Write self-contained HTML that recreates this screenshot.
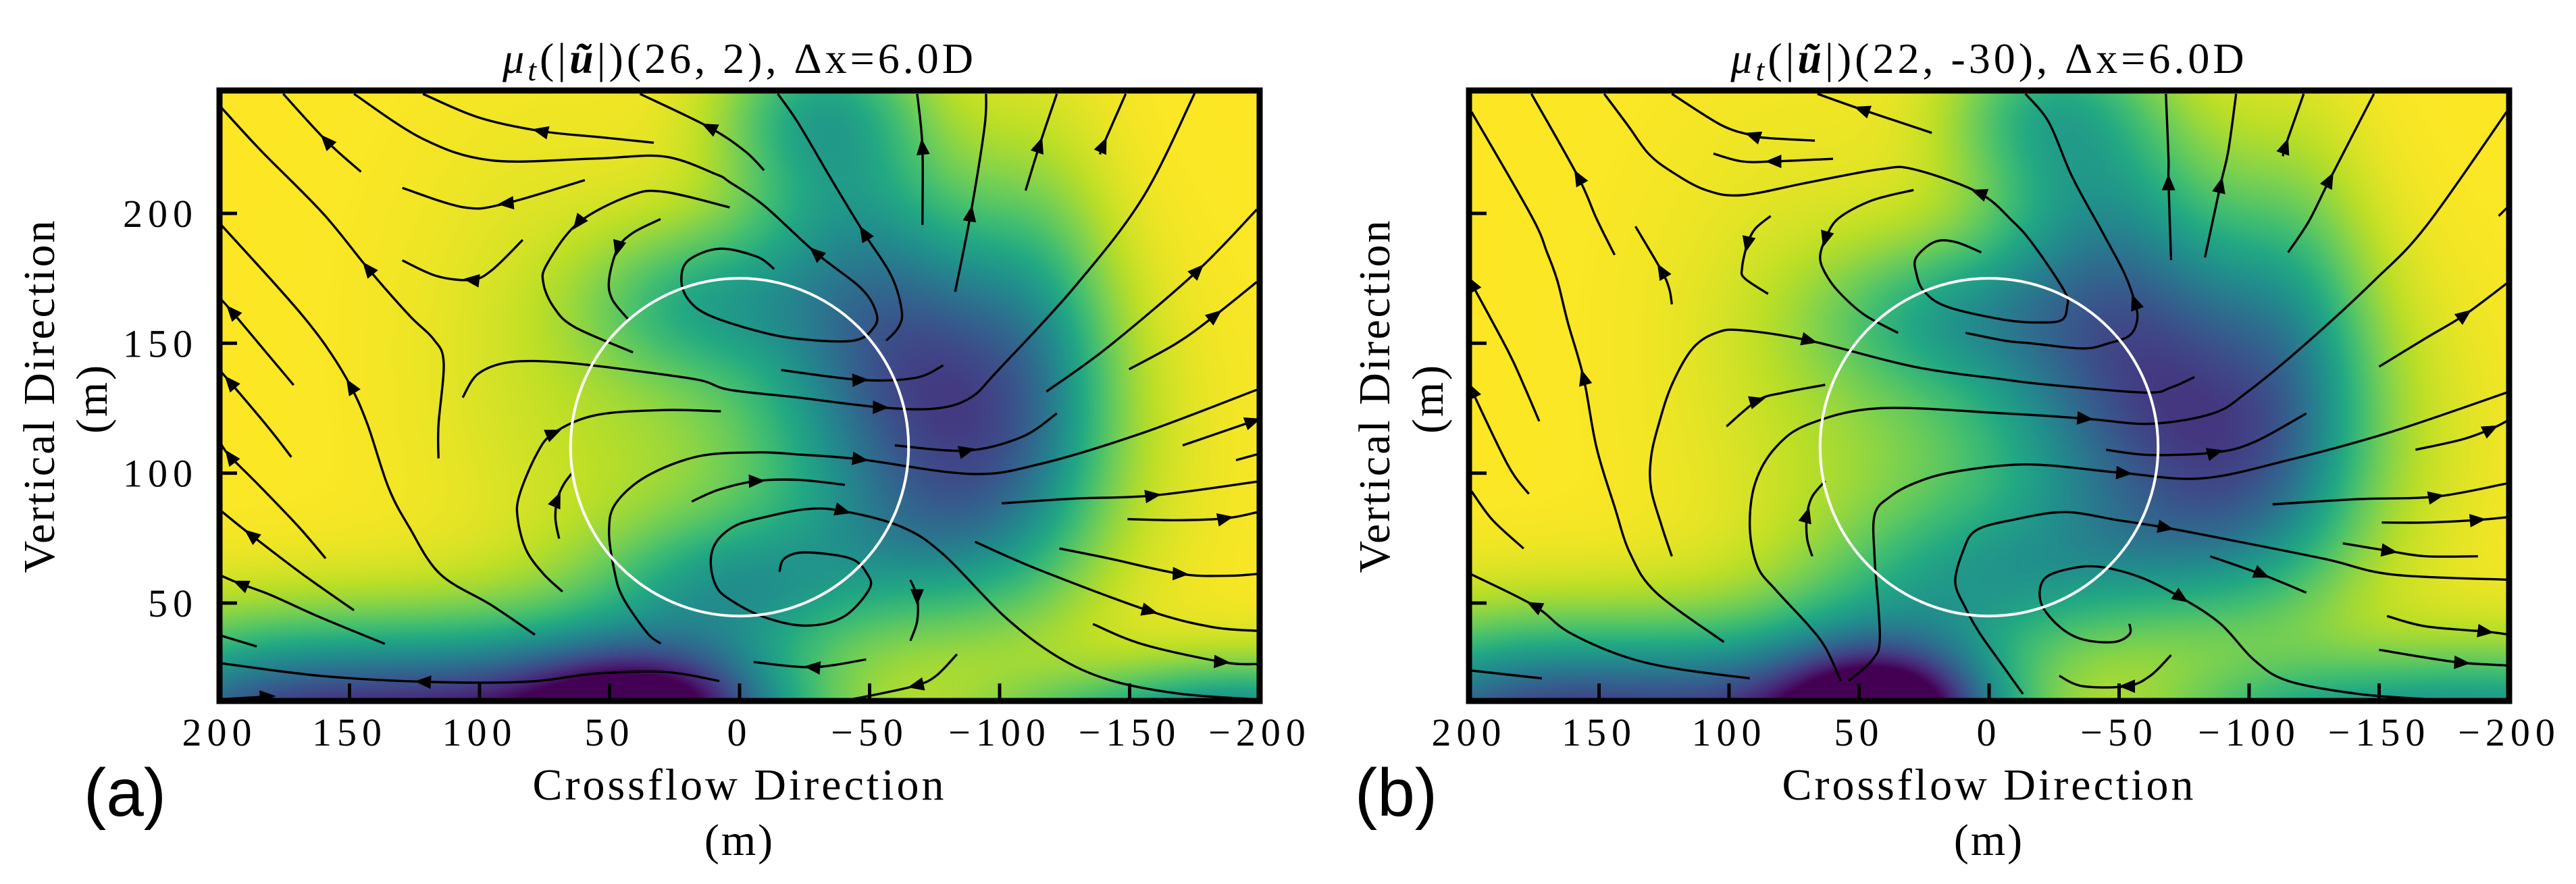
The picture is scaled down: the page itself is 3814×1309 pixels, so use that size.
<!DOCTYPE html>
<html><head><meta charset="utf-8">
<style>
html,body{margin:0;padding:0;background:#fff;}
#wrap{position:relative;width:3814px;height:1309px;overflow:hidden;background:#fff;}
canvas{position:absolute;}
svg{position:absolute;left:0;top:0;}
</style></head>
<body>
<div id="wrap">
<canvas id="cvA" width="1540" height="904" style="left:325px;top:134px"></canvas>
<canvas id="cvB" width="1540" height="904" style="left:2175px;top:134px"></canvas>
<svg id="svg" width="3814" height="1309" viewBox="0 0 3814 1309" font-family="'Liberation Serif', serif">
<defs>
<clipPath id="clipA"><rect x="325" y="134" width="1540" height="904"/></clipPath>
<clipPath id="clipB"><rect x="2175" y="134" width="1540" height="904"/></clipPath>
</defs>
<g id="gA" clip-path="url(#clipA)"></g>
<g id="gB" clip-path="url(#clipB)"></g>
<g id="axA"></g>
<g id="axB"></g>

<text x="1095" y="108" text-anchor="middle" font-size="64" letter-spacing="5"><tspan font-style="italic">μ</tspan><tspan font-style="italic" font-size="46" dy="11">t</tspan><tspan dy="-11">(|</tspan><tspan font-weight="bold" font-style="italic">ũ</tspan><tspan>|)(26, 2), Δx=6.0D</tspan></text>
<text x="2945" y="108" text-anchor="middle" font-size="64" letter-spacing="5"><tspan font-style="italic">μ</tspan><tspan font-style="italic" font-size="46" dy="11">t</tspan><tspan dy="-11">(|</tspan><tspan font-weight="bold" font-style="italic">ũ</tspan><tspan>|)(22, -30), Δx=6.0D</tspan></text>

<text transform="translate(80,586) rotate(-90)" text-anchor="middle" font-size="66" letter-spacing="3">Vertical Direction</text>
<text transform="translate(158,590) rotate(-90)" text-anchor="middle" font-size="66" letter-spacing="3">(m)</text>
<text transform="translate(2057,586) rotate(-90)" text-anchor="middle" font-size="66" letter-spacing="3">Vertical Direction</text>
<text transform="translate(2136,590) rotate(-90)" text-anchor="middle" font-size="66" letter-spacing="3">(m)</text>

<text x="1095" y="1184" text-anchor="middle" font-size="66" letter-spacing="4">Crossflow Direction</text>
<text x="1095" y="1266" text-anchor="middle" font-size="66" letter-spacing="3">(m)</text>
<text x="2945" y="1184" text-anchor="middle" font-size="66" letter-spacing="4">Crossflow Direction</text>
<text x="2945" y="1266" text-anchor="middle" font-size="66" letter-spacing="3">(m)</text>

<text x="185" y="1208" text-anchor="middle" font-size="100" font-family="'Liberation Sans', sans-serif">(a)</text>
<text x="2067" y="1208" text-anchor="middle" font-size="100" font-family="'Liberation Sans', sans-serif">(b)</text>
</svg>
</div>
<script>
// ---- data ----
const xTicks = [200,150,100,50,0,-50,-100,-150,-200];
const xTickLabels = ["200","150","100","50","0","−50","−100","−150","−200"];
const yTicks = [50,100,150,200];
const yTickLabels = ["50","100","150","200"];
const circleCenter = [0,110];
const circleRadius = 65;

// heat field blobs (dips from max value 1), panel a
const blobXA  = [185,105,30,40,-200,-140,-72,-75,-90,-40,-30,15,10,0,-60,-115,70];
const blobYA  = [0,0,0,10,0,0,150,110,90,200,240,165,110,58,75,150,150];
const blobAmpA= [0.7,0.7,0.75,0.35,0.55,0.25,0.35,0.45,0.15,0.3,0.25,0.28,0.08,0.3,0.1,0.2,0.06];
const blobSXA = [45,45,40,30,40,40,35,45,25,30,25,30,45,35,30,20,40];
const blobSYA = [27,27,30,15,18,15,35,45,30,40,20,20,45,18,20,55,60];
// panel b
const blobXB  = [185,105,40,40,-200,-120,-65,-75,-95,-40,-20,15,20,0,-60,-118,70];
const blobYB  = [0,0,0,10,0,0,148,110,90,205,240,160,110,60,75,148,150];
const blobAmpB= [0.7,0.6,0.8,0.4,0.5,0.3,0.38,0.45,0.15,0.3,0.22,0.28,0.1,0.28,0.1,0.2,0.06];
const blobSXB = [45,45,35,25,50,40,40,50,25,30,25,35,40,40,30,20,40];
const blobSYB = [27,27,30,15,22,18,40,45,30,40,20,20,40,20,20,55,60];

const streamsA = [
[[145.6,216],[159,228],[175.5,246]],
[[115.8,105.7],[115.8,118.5],[113.8,142.7],[117.8,151.7],[127.1,160.8],[143,178.9],[160.2,200],[184.1,224.2],[200,241.5]],
[[78.7,37.8],[95.3,49.1],[115.2,61.2],[127.1,79.3],[135,94.4],[143,118.5],[149.6,133.6],[158.9,148.7],[168.2,160.8],[180.1,174.4],[199.3,195.5]],
[[33,227.2],[54.2,229.4],[76.7,231.7],[100.6,237],[121.8,246]],
[[-9.4,216.6],[-2,224],[11.8,233.2],[38.3,246]],
[[-56.4,151],[-61,156],[-62.4,162.3],[-58.4,175.9],[-47.8,192.5],[-35.9,212.1],[-22.6,234.7],[-14.7,246]],
[[-13.3,178.6],[-6.5,183.4],[7.8,186.4],[19.7,181.9],[22.4,174.4],[19.7,166.8],[11.8,160.8],[-6.5,154.8],[-22.6,151.7],[-43.8,151],[-51.8,156.3],[-52.4,162.3],[-46.5,171.4],[-29.2,184.9],[-9.4,203],[3.9,212.1],[9.1,215.1],[29,221.9],[55.5,221.1],[95.3,220.4],[121.8,228.7],[148.3,246]],
[[30.4,197.8],[41,192.5],[46.9,186.4],[50.2,174.4],[48.9,166.8],[42.9,159.3]],
[[3.8,202.3],[29,208.3],[42.3,206.8],[62.2,196.2],[74.1,180.4],[75.4,172.9],[71.4,163.8],[63.5,156.3],[41,146.5]],
[[59.5,212.8],[90,203.8],[105.9,202.3],[129.7,209.8]],
[[83.4,189.8],[95.3,178.1],[103.2,174.4],[116.5,175.9],[129.7,181.9]],
[[171.5,133.9],[181.4,145.7],[195.3,162.3],[199.3,166.8]],
[[172.4,106.2],[181.4,117.8],[196,135.1],[199.3,138.9]],
[[159.2,67.2],[169.5,79.3],[185.4,95.9],[196,106.5],[199.3,111]],
[[148.3,47.2],[168.2,61.2],[188,76.3],[199.3,85.4]],
[[136.4,34.3],[161.5,44.6],[180.1,53],[192,57.4],[199.3,60.5]],
[[185.7,33.3],[199.3,37.4]],
[[7.8,20],[29,23.5],[55.5,22.8],[82,19.7],[121.8,19.7],[161.5,22],[199.3,26.8]],
[[-83.6,30.3],[-75.6,22],[-67.7,18.2],[-49.1,14.1],[-35.9,11.7]],
[[-48.7,28.3],[-27.9,25.3],[-5.4,27.3]],
[[68.1,54.4],[75.4,61.2],[82,70.3],[85.3,82.3],[84.7,91.4],[78.1,107.2],[71.4,115.5],[55.5,122.3],[29,124.3],[7.2,123.8]],
[[69.4,74.8],[70.8,82.3],[70.1,89.9],[67.5,95.9],[64.1,100.4]],
[[106.5,129.1],[100.6,138.2],[88.7,142.7],[68.8,142.7],[42.3,139.7],[15.8,135.9],[3.9,132.1],[-22.6,129.1],[-54.4,125.3],[-75.6,124.9],[-88.9,129.1],[-99.5,139.7],[-128.6,171.4],[-155.1,206.1],[-175,246.2]],
[[-16,139.7],[-46.5,135.9],[-67.7,136.7],[-78.3,141.5]],
[[-70.3,195.5],[-70.3,225.7],[-68.3,246]],
[[-82.9,169.8],[-88.9,200],[-94.2,233.2],[-94.8,246]],
[[-110,208.8],[-115.4,226.4],[-122,246]],
[[-138.6,222.7],[-139.9,226.4],[-148.5,246]],
[[-118,131.4],[-141.9,148.7],[-176.3,178.1],[-198.9,201.5]],
[[-149.8,140],[-168.4,150.2],[-183,160.8],[-198.9,173.6]],
[[-59.7,110.7],[-87.5,108.7],[-108.7,114],[-122,123]],
[[30.3,34.4],[35.6,38.6],[44.9,52.2],[48.2,62.7],[50.2,77.8],[47.6,88.4],[35.6,98.9],[15.8,106.5],[-6.5,108],[-22.6,107.2],[-46.5,105.3],[-88.9,99.7],[-115.4,103.5],[-155.1,115.5],[-198.9,132.1]],
[[18.4,89.1],[7.8,93.7],[-6.7,97],[-22.6,97.4],[-40.5,95.5]],
[[-15.3,62],[-17.3,67.2],[-25.3,69.5],[-42.5,67.2],[-49.1,61.2],[-49.8,55.2],[-39.8,44.6],[-25.3,41.3],[-9.4,44.6],[3.8,51.4],[9.1,56.7],[11.1,65.7],[9.1,73.3],[2.5,79.3],[-6.4,82.3],[-25.3,86.1],[-39.8,85.4],[-62.4,79.3],[-78.3,68.8],[-102.1,44.6],[-122,29.5],[-141.9,20.5],[-168.4,15.2],[-198.9,12.9]],
[[-65.7,58.9],[-68.3,52.2],[-68.3,43.1],[-65.7,35.5]],
[[-100.8,88.4],[-128.6,90.2],[-159.1,91.4],[-198.9,96.7]],
[[-149.2,82.3],[-168.4,81.9],[-186.9,82.6],[-198.9,84.9]],
[[-90.5,73.6],[-115.4,62.7],[-157.8,46.9],[-181.6,40.8],[-198.9,39.3]],
[[-123,71],[-141.9,67.2],[-169.7,61.2],[-188.3,60.5],[-198.9,61.2]],
[[-135.9,41.9],[-155.1,34.1],[-185.6,27.3],[-198.9,26.5]],
[[-170.4,110.7],[-197.5,120]],
[[-190.9,105],[-198.9,107.2]],
[[199.3,13],[181.4,14]]
];
const arrowsA = [1,5,6,2,2,4,13,2,3,1,2,2,2,3,2,3,-1,4,2,1,6,2,8,1,1,1,1,1,2,2,1,10,2,16,1,2,2,2,2,2,1,-1,1];

const streamsB = [
[[144,184],[151,198],[158,214],[176,246]],
[[102,35],[128,54],[138,69],[144,87],[151,110],[156,137],[162,158],[166,174],[170,185],[176,199],[199,239]],
[[173,120],[179,134],[185,147],[199,173]],
[[177,92],[185,103],[199,132]],
[[179,71],[191,82],[199,93]],
[[92,21],[122,25],[142,30],[162,39],[175,49],[199,61]],
[[172,21],[199,24]],
[[122,165],[123,171],[126,178],[136,195]],
[[67,228],[85,229],[91,230],[103,234],[122,246]],
[[60,221],[83,220],[95,220],[106,223]],
[[22,231],[49,240],[66,246]],
[[84,199],[90,194],[93,188],[95,179],[94,175],[85,169]],
[[29,209],[45,205],[58,198],[63,190],[65,183],[63,177],[58,170],[48,161],[35,154]],
[[3,185],[13,189],[21,189],[28,183],[28,177],[25,170],[16,164],[-6,159],[-20,158],[-28,159],[-30,164],[-29,170],[-17,188],[-9,197],[4,208],[29,217],[42,217],[69,212],[95,207],[109,209],[122,216],[131,223],[139,234],[148,246]],
[[9,154],[-6,151],[-16,150],[-36,148],[-46,150],[-54,153],[-57,159],[-56,166],[-52,177],[-44,192],[-32,214],[-23,235],[-14,246]],
[[122,68],[126,80],[130,94],[130,106],[127,119],[122,134],[114,148],[105,154],[95,155],[69,151],[29,141],[-6,136],[-23,134],[-60,131],[-70,133],[-79,137]],
[[101,118],[89,128],[79,131],[63,134]],
[[54,20],[45,28],[42,37],[44,67],[44,84],[38,91],[29,96],[16,100],[-6,103],[-23,103],[-52,100],[-82,98],[-115,105],[-155,116],[-199,131]],
[[57,20],[63,33],[70,42],[82,55],[89,64],[92,79],[90,96],[82,110],[69,119],[42,125],[-6,123],[-37,121],[-62,119],[-86,123],[-99,131],[-122,150],[-148,174],[-168,195],[-199,239]],
[[68,68],[70,75],[70,84],[68,91],[63,97]],
[[-13,15],[-3,29],[4,39],[9,48],[13,58],[10,70],[5,78],[-9,82],[-29,85],[-49,82],[-68,79],[-89,75],[-129,67],[-155,61],[-199,59]],
[[-54,42],[-54,38],[-48,35],[-36,36],[-27,41],[-20,50],[-21,59],[-30,63],[-42,64],[-58,60],[-74,52],[-89,42],[-102,28],[-115,20],[-142,15],[-168,13]],
[[-85,68],[-105,61],[-122,54]],
[[-70,30],[-62,22],[-53,18],[-36,18],[-27,22]],
[[-109,88],[-142,90],[-172,91],[-199,96]],
[[-151,81],[-168,81],[-188,82],[-199,83]],
[[-136,73],[-154,70],[-168,68],[-188,68]],
[[-153,45],[-168,41],[-191,39],[-199,38]],
[[-150,32],[-168,29],[-182,27],[-199,26]],
[[-164,109],[-182,113],[-193,117],[-199,120]],
[[-150,141],[-168,152],[-183,161],[-199,173]],
[[-115,185],[-123,197],[-131,213],[-148,246]],
[[-113,222],[-114,226],[-121,246]],
[[-83,183],[-89,211],[-92,224],[-95,246]],
[[-70,182],[-69,212],[-69,221],[-68,246]],
[[-45,109],[-62,107],[-87,108],[-102,112],[-122,123]],
[[-196,199],[-199,202]]
];
const arrowsB = [2,5,3,2,-1,4,-1,2,2,1,1,2,3,14,7,9,1,10,11,2,10,10,1,2,2,2,1,2,2,2,2,2,1,1,1,2,-1];

// ---- axes ----
const PLOT_TOP = 134, PLOT_W = 1540, PLOT_H = 904;
const X_LEFT_VAL = 200, X_RIGHT_VAL = -200, Y_BOT_VAL = 12.3, Y_TOP_VAL = 247.3;
function xScale(left, x){ return left + (X_LEFT_VAL - x) * PLOT_W / (X_LEFT_VAL - X_RIGHT_VAL); }
function yScale(y){ return PLOT_TOP + (Y_TOP_VAL - y) * PLOT_H / (Y_TOP_VAL - Y_BOT_VAL); }

const VIR = ["#440154","#482475","#414487","#355f8d","#2a788e","#21918c","#22a884","#44bf70","#7ad151","#bddf26","#fde725"].map(h=>[parseInt(h.slice(1,3),16),parseInt(h.slice(3,5),16),parseInt(h.slice(5,7),16)]);
function viridis(v){
  v = Math.max(0, Math.min(1, v)) * 10;
  const i = Math.min(9, Math.floor(v)), f = v - i;
  const a = VIR[i], b = VIR[i+1];
  return [a[0]+(b[0]-a[0])*f, a[1]+(b[1]-a[1])*f, a[2]+(b[2]-a[2])*f];
}
function drawHeat(id, bx, by, ba, bsx, bsy){
  const cv = document.getElementById(id);
  const step = 4, w = PLOT_W/step, h = Math.ceil(PLOT_H/step);
  const off = document.createElement('canvas'); off.width = w; off.height = h;
  const ctx = off.getContext('2d');
  const img = ctx.createImageData(w, h);
  for (let j=0;j<h;j++){
    const y = Y_TOP_VAL - (j+0.5)*step*(Y_TOP_VAL-Y_BOT_VAL)/PLOT_H;
    for (let i=0;i<w;i++){
      const x = X_LEFT_VAL - (i+0.5)*step*(X_LEFT_VAL-X_RIGHT_VAL)/PLOT_W;
      let d = 0;
      for (let k=0;k<bx.length;k++){
        const dx=(x-bx[k])/bsx[k], dy=(y-by[k])/bsy[k];
        d += ba[k]*Math.exp(-0.5*(dx*dx+dy*dy));
      }
      const c = viridis(1.0 - d);
      const p = (j*w+i)*4;
      img.data[p]=c[0]; img.data[p+1]=c[1]; img.data[p+2]=c[2]; img.data[p+3]=255;
    }
  }
  ctx.putImageData(img,0,0);
  const c2 = cv.getContext('2d');
  c2.imageSmoothingEnabled = true;
  c2.drawImage(off, 0, 0, w, h, 0, 0, PLOT_W, h*step);
}
drawHeat('cvA', blobXA, blobYA, blobAmpA, blobSXA, blobSYA);
drawHeat('cvB', blobXB, blobYB, blobAmpB, blobSXB, blobSYB);

const NS = "http://www.w3.org/2000/svg";
function smoothPath(pts){
  if (pts.length < 3) return "M"+pts.map(p=>p[0].toFixed(1)+","+p[1].toFixed(1)).join(" L");
  let d = "M"+pts[0][0].toFixed(1)+","+pts[0][1].toFixed(1);
  for (let i=0;i<pts.length-1;i++){
    const p0=pts[Math.max(0,i-1)], p1=pts[i], p2=pts[i+1], p3=pts[Math.min(pts.length-1,i+2)];
    const c1=[p1[0]+(p2[0]-p0[0])/6, p1[1]+(p2[1]-p0[1])/6];
    const c2=[p2[0]-(p3[0]-p1[0])/6, p2[1]-(p3[1]-p1[1])/6];
    d += " C"+c1[0].toFixed(1)+","+c1[1].toFixed(1)+" "+c2[0].toFixed(1)+","+c2[1].toFixed(1)+" "+p2[0].toFixed(1)+","+p2[1].toFixed(1);
  }
  return d;
}
function drawStreams(gid, left, streams, arrows){
  const g = document.getElementById(gid);
  streams.forEach((s, si) => {
    const pts = s.map(p => [xScale(left, p[0]), yScale(p[1])]);
    const path = document.createElementNS(NS, 'path');
    path.setAttribute('d', smoothPath(pts));
    path.setAttribute('fill', 'none');
    path.setAttribute('stroke', '#000');
    path.setAttribute('stroke-width', '3.4');
    
    
    g.appendChild(path);
    const ai = arrows[si];
    if (ai >= 0 && ai < pts.length){
      const p = pts[ai];
      const q = ai < pts.length-1 ? pts[ai+1] : pts[ai];
      const o = ai < pts.length-1 ? pts[ai] : pts[ai-1];
      let dx = q[0]-o[0], dy = q[1]-o[1];
      const L = Math.hypot(dx,dy) || 1; dx/=L; dy/=L;
      const tip=[p[0]+dx*12,p[1]+dy*12], bx=p[0]-dx*12, by=p[1]-dy*12;
      const tri = document.createElementNS(NS, 'polygon');
      tri.setAttribute('points', tip[0]+","+tip[1]+" "+(bx-dy*10)+","+(by+dx*10)+" "+(bx+dy*10)+","+(by-dx*10));
      tri.setAttribute('fill', '#000');
      
      
      g.appendChild(tri);
    }
  });
  const circ = document.createElementNS(NS, 'ellipse');
  circ.setAttribute('cx', xScale(left, circleCenter[0]));
  circ.setAttribute('cy', yScale(circleCenter[1]));
  circ.setAttribute('rx', Math.abs(xScale(left, circleRadius) - xScale(left, 0)));
  circ.setAttribute('ry', Math.abs(yScale(circleRadius) - yScale(0)));
  circ.setAttribute('fill', 'none');
  circ.setAttribute('stroke', '#fff');
  circ.setAttribute('stroke-width', '4');
  
  
  g.appendChild(circ);
}
drawStreams('gA', 325, streamsA, arrowsA);
drawStreams('gB', 2175, streamsB, arrowsB);

function drawAxes(gid, left, showYLabels){
  const g = document.getElementById(gid);
  const frame = document.createElementNS(NS, 'rect');
  frame.setAttribute('x', left); frame.setAttribute('y', PLOT_TOP);
  frame.setAttribute('width', PLOT_W); frame.setAttribute('height', PLOT_H);
  frame.setAttribute('fill', 'none'); frame.setAttribute('stroke', '#000'); frame.setAttribute('stroke-width', '9');
  
  
  g.appendChild(frame);
  const bottom = PLOT_TOP + PLOT_H;
  xTicks.forEach((v, i) => {
    const x = xScale(left, v);
    const t = document.createElementNS(NS, 'line');
    t.setAttribute('x1', x); t.setAttribute('x2', x);
    t.setAttribute('y1', bottom); t.setAttribute('y2', bottom - 26);
    t.setAttribute('stroke', '#000'); t.setAttribute('stroke-width', '5');
    
    
    g.appendChild(t);
    const tx = document.createElementNS(NS, 'text');
    tx.setAttribute('x', x); tx.setAttribute('y', 1104);
    tx.setAttribute('text-anchor', 'middle'); tx.setAttribute('font-size', '58');
    tx.setAttribute('letter-spacing', '8');
    tx.textContent = xTickLabels[i];
    
    
    g.appendChild(tx);
  });
  yTicks.forEach((v, i) => {
    const y = yScale(v);
    const t = document.createElementNS(NS, 'line');
    t.setAttribute('x1', left); t.setAttribute('x2', left + 26);
    t.setAttribute('y1', y); t.setAttribute('y2', y);
    t.setAttribute('stroke', '#000'); t.setAttribute('stroke-width', '5');
    
    
    g.appendChild(t);
    if (showYLabels){
      const tx = document.createElementNS(NS, 'text');
      tx.setAttribute('x', left - 32); tx.setAttribute('y', y + 20);
      tx.setAttribute('text-anchor', 'end'); tx.setAttribute('font-size', '58');
      tx.setAttribute('letter-spacing', '8');
      tx.textContent = yTickLabels[i];
      
      
      g.appendChild(tx);
    }
  });
}
drawAxes('axA', 325, true);
drawAxes('axB', 2175, false);
</script>
</body></html>
